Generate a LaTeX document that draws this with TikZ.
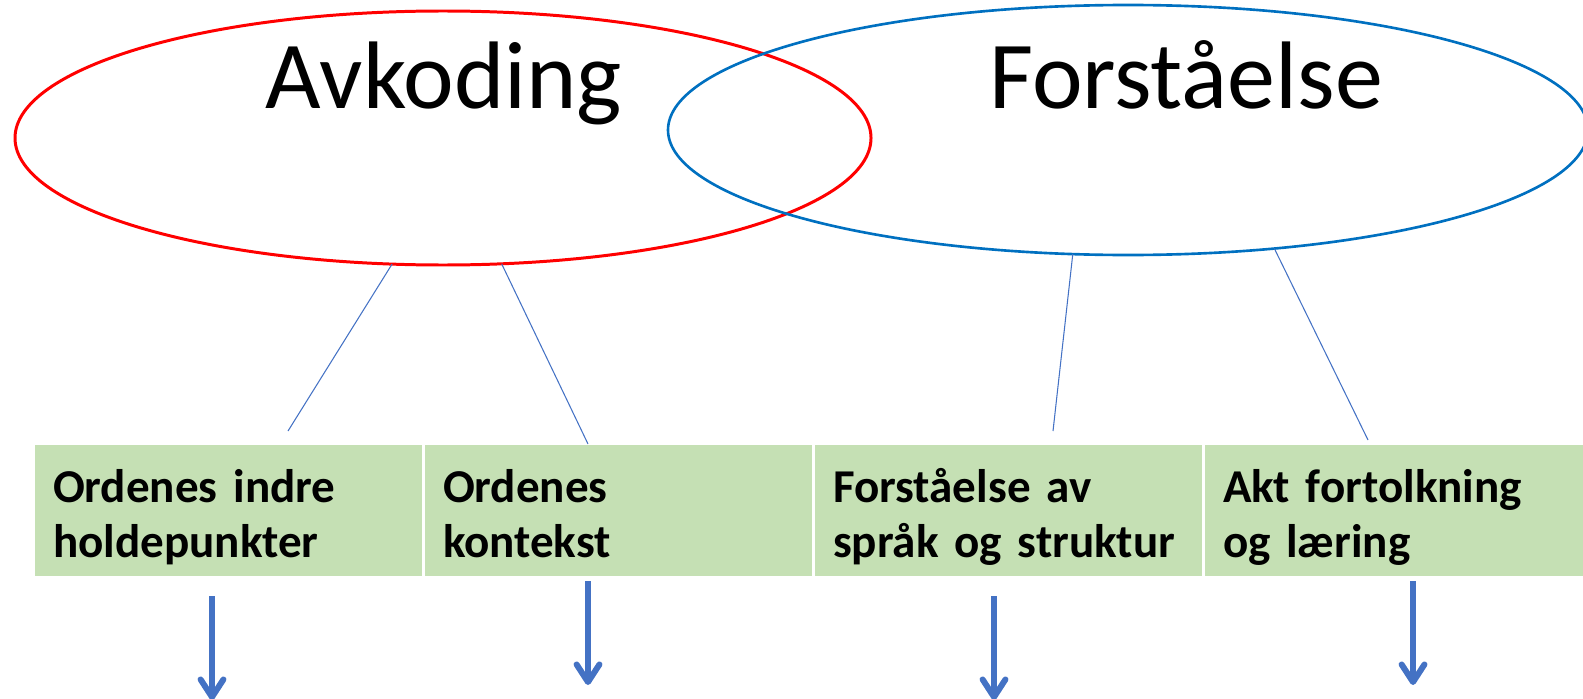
\documentclass[tikz,border=0pt]{standalone}
\usepackage{fontspec}
\setmainfont{Carlito}
\usetikzlibrary{shapes.geometric,arrows.meta}
\definecolor{avkred}{HTML}{FF0000}
\definecolor{forblue}{HTML}{0070C0}
\definecolor{linjeblue}{HTML}{4472C4}
\definecolor{boksgreen}{HTML}{C5E0B4}

\tikzset{
  ring/.style={ellipse, draw, inner sep=0pt, outer sep=0pt},
  tittel/.style={anchor=base, font=\fontsize{27.3}{33}\selectfont},
  boks/.style={fill=boksgreen, minimum width=3.87cm, minimum height=1.31cm,
    text width=3.5cm, align=left, inner xsep=0.185cm, inner ysep=0pt,
    text height=0.40cm, text depth=0.57cm,
    font=\fontsize{13.4}{15.65}\selectfont\bfseries},
  tynn/.style={draw=linjeblue, line width=0.3pt},
  pil/.style={draw=linjeblue, line width=1.7pt,
    -{Straight Barb[length=5pt,width=6.5pt,round]}}
}

\begin{document}
\begin{tikzpicture}

  \clip (0,0) rectangle (15.83,6.98);

  % ellipsene
  \node[ring, draw=avkred, line width=0.85pt, minimum width=8.56cm, minimum height=2.54cm] (avk) at (4.43,5.60) {};
  \node[ring, draw=forblue, line width=0.75pt, minimum width=9.20cm, minimum height=2.50cm] (forst) at (11.28,5.68) {};
  \node[tittel] (tavk) at (4.44,5.89) {Avkoding};
  \node[tittel] (tforst) at (11.86,5.89) {Forståelse};

  % boksene
  \node[boks] (b1) at (2.28,1.875)  {Ordenes indre\\holdepunkter};
  \node[boks] (b2) at (6.18,1.875)  {Ordenes\\kontekst};
  \node[boks] (b3) at (10.08,1.875) {Forståelse av\\språk og struktur};
  \node[boks] (b4) at (13.98,1.875) {Akt fortolkning\\og læring};

  % linjer
  \coordinate (e1) at (2.88,2.67);
  \coordinate (e2) at (5.88,2.54);
  \coordinate (e3) at (10.53,2.67);
  \coordinate (e4) at (13.68,2.58);
  \draw[tynn] (avk.248) -- (e1);
  \draw[tynn] (avk.295) -- (e2);
  \draw[tynn] (forst.246) -- (e3);
  \draw[tynn] (forst.321) -- (e4);

  % piler
  \coordinate (p1) at (2.12,1.02);  \coordinate (q1) at (2.12,-0.02);
  \coordinate (p2) at (5.88,1.17);  \coordinate (q2) at (5.88,0.13);
  \coordinate (p3) at (9.94,1.02);  \coordinate (q3) at (9.94,-0.02);
  \coordinate (p4) at (14.13,1.17); \coordinate (q4) at (14.13,0.13);
  \draw[pil] (p1) -- (q1);
  \draw[pil] (p2) -- (q2);
  \draw[pil] (p3) -- (q3);
  \draw[pil] (p4) -- (q4);

\end{tikzpicture}
\end{document}
